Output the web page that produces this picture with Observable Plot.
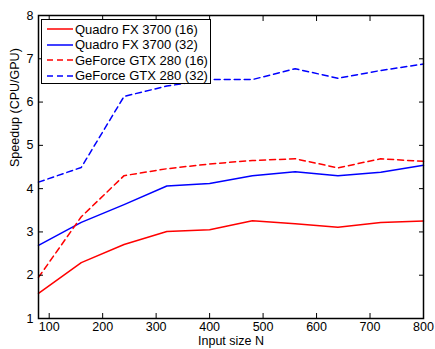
<!DOCTYPE html>
<html>
<head>
<meta charset="utf-8">
<script src="https://cdn.jsdelivr.net/npm/d3@7"></script>
<script src="https://cdn.jsdelivr.net/npm/@observablehq/plot@0.6"></script>
<style>
  html, body { margin: 0; padding: 0; background: #fff; }
  #wrap { position: relative; width: 435px; height: 349px; font-family: "Liberation Sans", Arial, Helvetica, sans-serif; }
  #legend { position: absolute; left: 41px; top: 19px; width: 168px; height: 63px; border: 1px solid #000; background: #fff; box-sizing: content-box; }
  #legend .row { position: absolute; left: 0; height: 16px; display: flex; align-items: center; font-size: 13px; color: #000; white-space: nowrap; }
  #legend svg { margin-left: 5px; margin-right: 2px; }
</style>
</head>
<body>
<div id="wrap"><div id="legend"></div></div>
<script>
// Input sizes N
const sizes = [80, 160, 240, 320, 400, 480, 560, 640, 720, 800];

// Speedup (CPU time / GPU time) per configuration
const quadro16 = [1.58, 2.29, 2.71, 3.01, 3.05, 3.26, 3.19, 3.11, 3.22, 3.25];
const quadro32 = [2.69, 3.22, 3.63, 4.06, 4.12, 4.30, 4.39, 4.30, 4.38, 4.54];
const gtx16    = [1.95, 3.35, 4.30, 4.46, 4.57, 4.65, 4.69, 4.48, 4.69, 4.63];
const gtx32    = [4.15, 4.49, 6.13, 6.37, 6.52, 6.52, 6.77, 6.55, 6.73, 6.88];

const seriesNames = ["Quadro FX 3700 (16)", "Quadro FX 3700 (32)", "GeForce GTX 280 (16)", "GeForce GTX 280 (32)"];
const seriesValues = [quadro16, quadro32, gtx16, gtx32];
const seriesColors = ["#ff0000", "#0000ff", "#ff0000", "#0000ff"];
const seriesDash = [null, null, "6,4", "6,4"];

const xTicks = [100, 200, 300, 400, 500, 600, 700, 800];
const yTicks = [1, 2, 3, 4, 5, 6, 7, 8];

const rows = seriesNames.flatMap((name, i) =>
  sizes.map((n, j) => ({series: name, n, speedup: seriesValues[i][j]}))
);

const lineMarks = seriesNames.map((name, i) =>
  Plot.line(rows.filter(d => d.series === name), {
    x: "n", y: "speedup",
    stroke: seriesColors[i], strokeWidth: 1.5,
    strokeDasharray: seriesDash[i]
  })
);

const chart = Plot.plot({
  width: 435,
  height: 349,
  marginLeft: 38,
  marginRight: 12,
  marginTop: 15,
  marginBottom: 31,
  style: {fontFamily: '"Liberation Sans", Arial, Helvetica, sans-serif', fontSize: "12.5px", color: "#000", background: "#fff"},
  x: {domain: [80, 800]},
  y: {domain: [1, 8]},
  marks: [
    ...lineMarks,
    Plot.axisX(xTicks, {anchor: "bottom", tickSize: -5, tickPadding: 9, label: null, fontSize: 12.5}),
    Plot.axisX(xTicks, {anchor: "top", tickSize: -5, tickFormat: () => "", label: null}),
    Plot.axisY(yTicks, {anchor: "left", tickSize: -5, tickPadding: 10, label: null, fontSize: 12.5}),
    Plot.axisY(yTicks, {anchor: "right", tickSize: -5, tickFormat: () => "", label: null}),
    Plot.frame({stroke: "#000", strokeWidth: 1.5}),
    Plot.text(["Input size N"], {frameAnchor: "bottom", dy: 26, fontSize: 12.5}),
    Plot.text(["Speedup (CPU/GPU)"], {frameAnchor: "left", dx: -24, rotate: -90, fontSize: 12.5})
  ]
});

const wrap = document.getElementById("wrap");
wrap.insertBefore(chart, wrap.firstChild);

// Legend box in the upper-left corner of the plot area
const legend = document.getElementById("legend");
seriesNames.forEach((name, i) => {
  const row = document.createElement("div");
  row.className = "row";
  row.style.top = (1 + i * 15.5) + "px";
  const dash = seriesDash[i] ? ` stroke-dasharray="${seriesDash[i]}"` : "";
  row.innerHTML = `<svg width="26" height="4"><line x1="0" y1="2" x2="26" y2="2" stroke="${seriesColors[i]}" stroke-width="1.5"${dash}/></svg><span>${name}</span>`;
  legend.appendChild(row);
});
</script>
</body>
</html>
